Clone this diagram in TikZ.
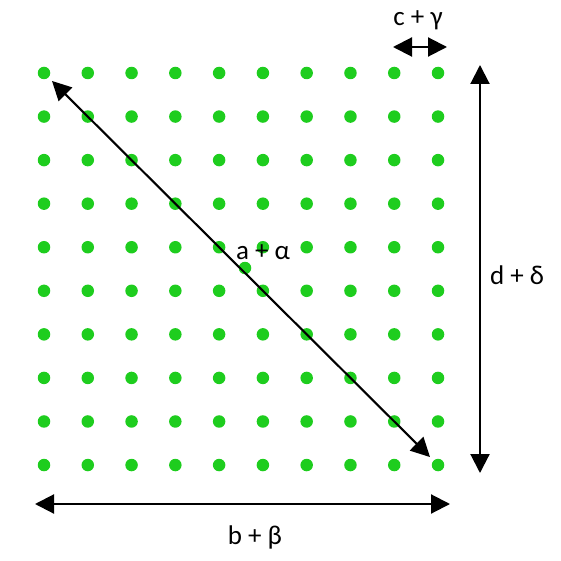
\documentclass[tikz,border=0pt]{standalone}
\usepackage{fontspec}
\setmainfont{Carlito}
\usetikzlibrary{arrows.meta, positioning}
\definecolor{dotgreen}{RGB}{30,205,30}

\begin{document}
\begin{tikzpicture}[x=1pt,y=-1pt,>={Triangle[length=19pt,width=19pt]},line width=2.1pt,
    dot/.style={circle,fill=dotgreen,inner sep=0pt,minimum size=12.5pt},
    lbl/.style={font=\fontsize{27}{31}\selectfont,inner sep=1pt}]
  \useasboundingbox (0,0) rectangle (561,561);
  % grid of dots
  \foreach \i in {0,...,9}
    \foreach \j in {0,...,9}
      \node [dot] (d-\i-\j) at (44+43.78*\i,73+43.56*\j) {};
  \node [dot] (dshift) at (245,268) {};

  % end points of the dimension arrows
  \coordinate (cl) at (393,47);
  \coordinate (cr) at (447,47);
  \coordinate (dt) at (480,65);
  \coordinate (db) at (480,473);
  \coordinate (bl) at (35,504);
  \coordinate (br) at (450,504);

  \draw [<->] (cl) -- (cr);
  \draw [<->] (dt) -- (db);
  \draw [<->] (bl) -- (br);
  \draw [<->,shorten <=4pt,shorten >=4pt] (d-0-0) -- (d-9-9);

  \node [lbl] (clabel) at (418,20) {c + γ};
  \node [lbl] (dlabel) at (517,275) {d + δ};
  \node [lbl] (blabel) at (255,537) {b + β};
  \node [lbl] (alabel) at (263,252) {a + α};
\end{tikzpicture}
\end{document}
